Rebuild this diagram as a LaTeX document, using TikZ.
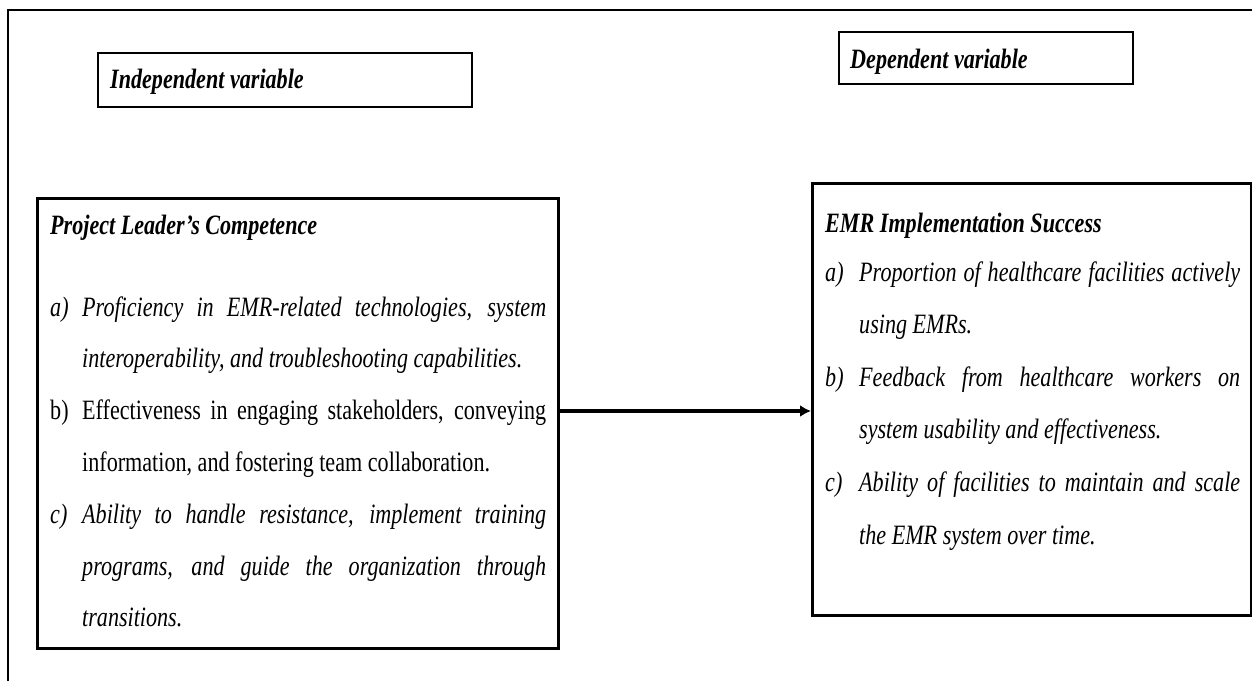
\documentclass[tikz,border=0pt]{standalone}
\usepackage{fontspec}
\setmainfont{Liberation Serif}[FakeStretch=0.79]
\usetikzlibrary{arrows.meta}
\newlength{\myhang}
\newcommand{\myitem}[2]{\noindent\hangindent=\myhang\hangafter=1\makebox[\myhang][l]{#1}#2\par}
\begin{document}
\begin{tikzpicture}[x=1pt,y=-1pt,
  frame/.style={draw, line width=2pt},
  varbox/.style={draw, line width=2.2pt, anchor=north west, inner sep=0pt},
  bigbox/.style={draw, line width=3.4pt, anchor=north west, inner sep=0pt},
  titletext/.style={anchor=base west, inner sep=0pt, font=\fontsize{28}{32}\selectfont\bfseries\itshape},
  bodytext/.style={anchor=base west, inner sep=0pt, align=justify},
  conn/.style={line width=3.2pt, -{Latex[length=11pt,width=12pt]}}]
\useasboundingbox (0,0) rectangle (1252,680);
\clip (0,0) rectangle (1252,680);
\fill[white] (0,0) rectangle (1252,680);
\draw[frame] (8,10) rectangle (1290,700);
% variable labels
\node[varbox, minimum width=374pt, minimum height=54pt] (ivbox) at (97,52) {};
\node[titletext] (ivtext) at (110,88) {Independent variable};
\node[varbox, minimum width=294pt, minimum height=52pt] (dvbox) at (838,31) {};
\node[titletext] (dvtext) at (850,68) {Dependent variable};
% main boxes
\node[bigbox, minimum width=521pt, minimum height=450pt] (lbox) at (36,197) {};
\node[bigbox, minimum width=439pt, minimum height=432pt] (rbox) at (811,182) {};
\node[titletext] (ltitle) at (50,234) {Project Leader’s Competence};
\node[titletext] (rtitle) at (825,232) {EMR Implementation Success};
\node[bodytext, text width=496pt] (ltext) at (50,316) {%
  \fontsize{28}{51.8}\selectfont\hyphenpenalty=10000\setlength{\myhang}{32pt}%
  \myitem{\itshape a)}{{\itshape Proficiency in EMR-related technologies, system\linebreak interoperability, and troubleshooting capabilities.}}%
  \myitem{b)}{Effectiveness in engaging stakeholders, conveying\linebreak information, and fostering team collaboration.}%
  \myitem{\itshape c)}{{\itshape Ability to handle resistance, implement training\linebreak programs, and guide the organization through\linebreak transitions.}}%
};
\node[bodytext, text width=415pt] (rtext) at (825,281) {%
  \fontsize{28}{52.6}\selectfont\hyphenpenalty=10000\setlength{\myhang}{34pt}\itshape
  \myitem{a)}{Proportion of healthcare facilities actively\linebreak using EMRs.}%
  \myitem{b)}{Feedback from healthcare workers on\linebreak system usability and effectiveness.}%
  \myitem{c)}{Ability of facilities to maintain and scale\linebreak the EMR system over time.}%
};
% connector
\coordinate (ay) at (0,411);
\draw[conn] (lbox.east |- ay) -- (rbox.west |- ay);
\end{tikzpicture}
\end{document}
